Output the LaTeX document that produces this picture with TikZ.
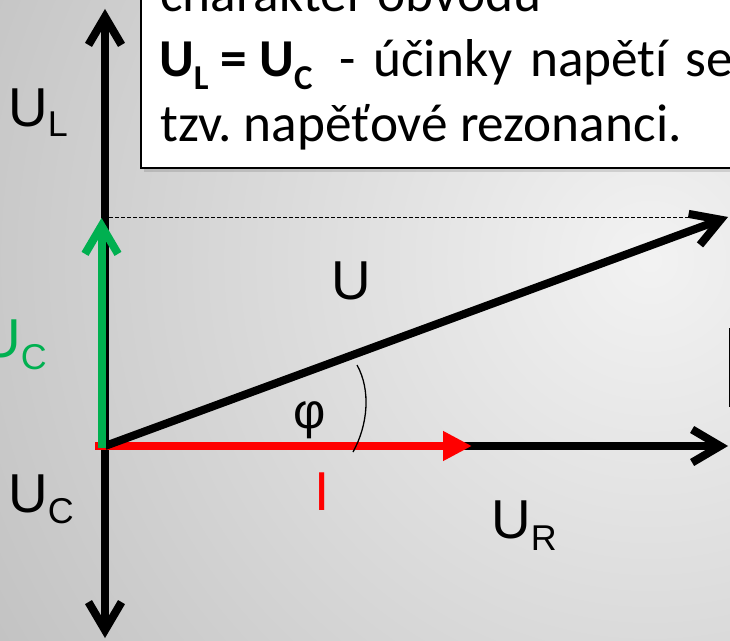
\documentclass[tikz,border=0pt]{standalone}
\usepackage{fontspec}
\setmainfont{Liberation Sans}
\newfontfamily\calib[Ligatures=NoCommon]{Carlito}
\usetikzlibrary{arrows.meta}
\frenchspacing
\definecolor{ucgreen}{HTML}{00B050}
\definecolor{ired}{HTML}{FF0000}
\newcommand\mysub[2]{\raisebox{-#1}{\fontsize{36}{36}\selectfont #2}}
\newcommand\mybsub[1]{\raisebox{-13bp}{\fontsize{35}{35}\selectfont #1}}
\newcommand\wsp{\hspace{17.5bp}}
\begin{document}
\begin{tikzpicture}[x=1bp,y=-1bp,
  vec/.style={line width=8bp, -{Straight Barb[length=28bp,width=33bp]}},
  shadowline/.style={black, opacity=0.15, shift={(2,3)}},
  lab/.style={inner sep=0pt, anchor=base west, font=\fontsize{55}{55}\selectfont},
  boxtext/.style={inner sep=0pt, anchor=base west, font=\calib\fontsize{53.5}{64}\selectfont}]
\useasboundingbox (0,0) rectangle (730,641);
% background
\begin{scope}
  \clip (0,0) rectangle (730,641);
  \shade[inner color=black!5, outer color=black!37] (650,260) circle (1300bp);
\end{scope}
% coordinates
\coordinate (O) at (105,446);
\coordinate (ULtip) at (105,9);
\coordinate (UCtip) at (105,638);
\coordinate (URtip) at (728,446);
\coordinate (Utip) at (728,217);
\coordinate (Istart) at (95,446);
\coordinate (Itip) at (472,446);
\coordinate (Gstart) at (101.5,448);
\coordinate (Gtip) at (101.5,218);
\coordinate (Dstart) at (109,217);
\coordinate (Dend) at (690,217);
\coordinate (A1) at (353,452);
\coordinate (A2) at (357,365);
% text box
\fill[black, opacity=0.12] (144,-30) rectangle (748,172);
\draw[fill=white, line width=2bp] (141,-30) rectangle (745,168);
\node[boxtext] (t1) at (160,12) {charakter obvodu};
\node[boxtext] (t2) at (159,77) {{\bfseries U\mybsub{L} = U\mybsub{C}}\hspace{27bp}-\wsp účinky\wsp napětí\wsp se};
\node[boxtext] (t3) at (160,142) {tzv. napěťové rezonanci.};
% partial box at right edge
\fill (728.5,328) rectangle (733,407);
% dashed helper line
\draw[line width=1bp, dash pattern=on 4bp off 2bp] (Dstart) -- (Dend);
% shadows of the vectors
\begin{scope}[shadowline]
  \draw[vec] (O) -- (ULtip);
  \draw[vec] (O) -- (UCtip);
  \draw[vec] (O) -- (URtip);
  \draw[vec] (O) -- (Utip);
\end{scope}
% axes
\draw[vec] (O) -- (ULtip);
\draw[vec] (O) -- (UCtip);
\draw[vec] (O) -- (URtip);
% current I
\draw[ired, line width=8bp, -{Triangle[length=29bp,width=28bp]}] (Istart) -- (Itip);
% U
\draw[vec] (O) -- (Utip);
% U_C shifted
\draw[ucgreen, vec] (Gstart) -- (Gtip);
% angle
\draw[line width=1.3bp] (A1) .. controls (368,425) and (371,390) .. (A2);
% labels
\node[lab] (lUL) at (8,127) {U\mysub{10bp}{L}};
\node[lab, text=ucgreen] (lUCg) at (-19,357) {U\mysub{12bp}{C}};
\node[lab] (lUC) at (8,512) {U\mysub{11bp}{C}};
\node[lab] (lU) at (331,299) {U};
\node[inner sep=0pt, font=\fontsize{50}{50}\selectfont] (lphi) at (310,420) {φ};
\node[lab, text=ired] (lI) at (314,510) {I};
\node[lab] (lUR) at (491,538) {U\mysub{12bp}{R}};
\end{tikzpicture}
\end{document}
